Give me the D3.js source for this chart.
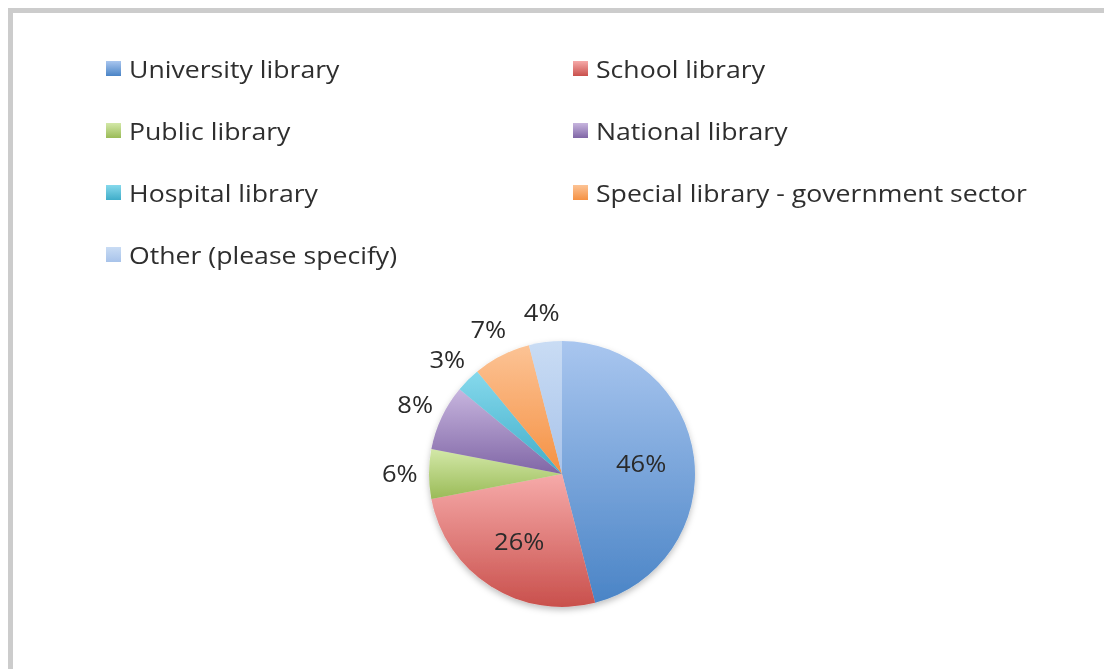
<!DOCTYPE html>
<html><head><meta charset="utf-8">
<script src="https://cdn.jsdelivr.net/npm/d3@7"></script>
<style>body{margin:0;background:#fff}svg{display:block}</style>
</head><body>
<svg id="c" width="1104" height="669"></svg>
<script>
const categories = ["University library","School library","Public library","National library","Hospital library","Special library - government sector","Other (please specify)"];
const values = [46,26,6,8,3,7,4];
const lightColors = ["#a9c6ef","#f6aaa9","#d3e8a8","#c7b5de","#86d9ec","#fcc395","#c9dcf4"];
const darkColors  = ["#4a84c6","#c9504c","#9abb57","#8066a6","#40adc9","#f59143","#a8c3ea"];
const legendOrder = [0,1,2,3,4,5,6];

const svg = d3.select("#c");
const W = 1104, H = 669;
const font = "'Open Sans', sans-serif";
const sx = 1.11;

svg.append("rect").attr("x",0).attr("y",0).attr("width",W).attr("height",H).attr("fill","#fff");
svg.append("path").attr("d",`M10.5,${H} L10.5,10.5 L${W},10.5`).attr("fill","none").attr("stroke","#cccccc").attr("stroke-width",5);

const defs = svg.append("defs");
categories.forEach((c,i)=>{
  const g = defs.append("linearGradient").attr("id","g"+i).attr("x1",0).attr("y1",0).attr("x2",0).attr("y2",1);
  g.append("stop").attr("offset","0%").attr("stop-color",lightColors[i]);
  g.append("stop").attr("offset","100%").attr("stop-color",darkColors[i]);
});
const f = defs.append("filter").attr("id","sh").attr("x","-20%").attr("y","-20%").attr("width","140%").attr("height","140%");
f.append("feDropShadow").attr("dx",0).attr("dy",3).attr("stdDeviation",3).attr("flood-color","#000").attr("flood-opacity",0.25);
const tb = defs.append("filter").attr("id","tb");
tb.append("feGaussianBlur").attr("stdDeviation",0.45);

// legend
const colX = [106, 573], rowY = [69, 131, 193, 255];
const leg = svg.append("g");
legendOrder.forEach((k,j)=>{
  const x = colX[j%2], y = rowY[Math.floor(j/2)];
  leg.append("rect").attr("x",x).attr("y",y-8).attr("width",15).attr("height",15).attr("fill",`url(#g${k})`);
  leg.append("text").attr("transform",`translate(${x+23},${y}) scale(${sx},1)`).attr("dy","0.36em").attr("filter","url(#tb)")
    .attr("font-family",font).attr("font-size",24).attr("fill","#2f2f2f").text(categories[k]);
});

// pie
const cx = 562, cy = 474, r = 133;
const pie = d3.pie().sort(null).value(d=>d);
const arcs = pie(values);
const arc = d3.arc().innerRadius(0).outerRadius(r);
const g = svg.append("g").attr("transform",`translate(${cx},${cy})`);
const pg = g.append("g").attr("filter","url(#sh)");
pg.selectAll("path").data(arcs).join("path")
  .attr("d",arc).attr("fill",(d,i)=>`url(#g${i})`);

const inArc = d3.arc().innerRadius(r*0.6).outerRadius(r*0.6);
const outArc = d3.arc().innerRadius(r*1.22).outerRadius(r*1.22);
g.selectAll("text").data(arcs).join("text")
  .attr("transform",d=>{
    const p = (d.data >= 20 ? inArc : outArc).centroid(d);
    return `translate(${p[0]},${p[1]}) scale(${sx},1)`;
  })
  .attr("text-anchor","middle").attr("dy","0.36em").attr("filter","url(#tb)")
  .attr("font-family",font).attr("font-size",23).attr("fill","#2a2a2a")
  .text(d=>d.data+"%");
</script>
</body></html>
